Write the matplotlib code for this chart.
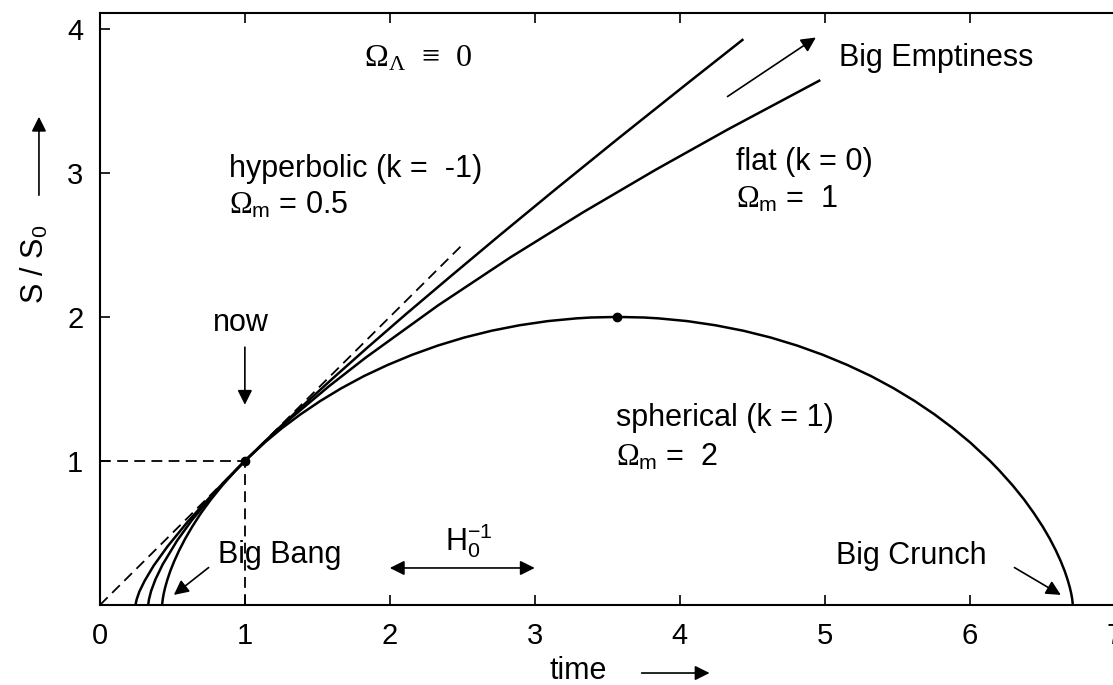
import matplotlib

matplotlib.use("Agg")
import matplotlib.pyplot as plt  # noqa: E402

plt.rcParams["font.family"] = ["Liberation Sans", "DejaVu Sans"]
plt.rcParams["mathtext.fontset"] = "custom"
plt.rcParams["mathtext.rm"] = "Liberation Serif"
plt.rcParams["mathtext.it"] = "Liberation Serif:italic"
plt.rcParams["mathtext.sf"] = "Liberation Sans"

# scale factor S/S0 against time (units of 1/H0)
sph_t = [0.429, 0.429, 0.431, 0.434, 0.440, 0.450, 0.465, 0.485, 0.512, 0.546,
         0.588, 0.638, 0.697, 0.766, 0.844, 0.932, 1.000, 1.138, 1.255, 1.383,
         1.520, 1.666, 1.821, 1.984, 2.154, 2.331, 2.514, 2.702, 2.894, 3.090,
         3.288, 3.388, 3.571,
         3.754, 3.854, 4.052, 4.247, 4.440, 4.628, 4.811, 4.988, 5.158, 5.321,
         5.476, 5.622, 5.759, 5.886, 6.004, 6.142, 6.210, 6.298, 6.376, 6.444,
         6.504, 6.554, 6.596, 6.630, 6.657, 6.677, 6.692, 6.702, 6.708, 6.711,
         6.712, 6.712]
sph_s = [0.0, 0.005, 0.020, 0.045, 0.079, 0.122, 0.175, 0.235, 0.303, 0.378,
         0.460, 0.546, 0.638, 0.733, 0.830, 0.929, 1.000, 1.129, 1.227, 1.323,
         1.416, 1.505, 1.589, 1.666, 1.737, 1.801, 1.857, 1.904, 1.942, 1.971,
         1.990, 1.996, 2.000,
         1.996, 1.990, 1.971, 1.942, 1.904, 1.857, 1.801, 1.737, 1.666, 1.589,
         1.505, 1.416, 1.323, 1.227, 1.129, 1.000, 0.929, 0.830, 0.733, 0.638,
         0.546, 0.460, 0.378, 0.303, 0.235, 0.175, 0.122, 0.079, 0.045, 0.020,
         0.005, 0.0]

flat_t = [0.333, 0.338, 0.353, 0.383, 0.433, 0.533, 0.633, 0.783, 0.883, 1.000,
          1.183, 1.333, 1.583, 1.833, 2.333, 2.833, 3.333, 3.833, 4.333, 4.963]
flat_s = [0.0, 0.038, 0.097, 0.178, 0.282, 0.448, 0.587, 0.769, 0.880, 1.000,
          1.176, 1.310, 1.521, 1.717, 2.080, 2.414, 2.726, 3.021, 3.302, 3.640]

hyp_t = [0.246, 0.247, 0.254, 0.272, 0.309, 0.370, 0.465, 0.603, 0.795, 1.000,
         1.214, 1.397, 1.605, 1.842, 2.111, 2.415, 2.757, 3.142, 3.574, 4.059,
         4.433]
hyp_s = [0.0, 0.010, 0.041, 0.093, 0.169, 0.272, 0.405, 0.575, 0.789, 1.000,
         1.209, 1.381, 1.572, 1.784, 2.019, 2.278, 2.566, 2.885, 3.237, 3.626,
         3.923]

empty_t = [0.0, 2.5]
empty_s = [0.0, 2.5]

now_t, now_s = 1.0, 1.0
max_t, max_s = 3.571, 2.0

x_ticks = [0, 1, 2, 3, 4, 5, 6, 7]
y_ticks = [1, 2, 3, 4]

fig = plt.figure(figsize=(11.13, 6.85), dpi=100)
ax = fig.add_axes([0.0898, 0.1168, 0.918, 0.8642])

ax.plot(sph_t, sph_s, color="black", lw=1.8)
ax.plot(flat_t, flat_s, color="black", lw=1.8)
ax.plot(hyp_t, hyp_s, color="black", lw=1.8)
ax.plot(empty_t, empty_s, color="black", lw=1.3, ls=(0, (6, 3.5)))
ax.plot([0, now_t], [now_s, now_s], color="black", lw=1.3, ls=(0, (6, 3.5)))
ax.plot([now_t, now_t], [0, now_s], color="black", lw=1.3, ls=(0, (6, 3.5)))
ax.plot([now_t, max_t], [now_s, max_s], "o", color="black", ms=6)

ax.set_xlim(0, 7.05)
ax.set_ylim(0, 4.11)
ax.set_xticks(x_ticks)
ax.set_yticks(y_ticks)
ax.tick_params(direction="in", length=7, width=1.2, labelsize=21, pad=12,
               top=True, right=False)
for side in ["left", "bottom", "top"]:
    ax.spines[side].set_linewidth(1.5)
ax.spines["right"].set_visible(False)

fs = 22
ax.text(1.82, 3.74, r"$\Omega_\Lambda$  ≡  0", fontsize=23,
        family="Liberation Serif")
ax.text(0.89, 2.97, "hyperbolic (k =  -1)", fontsize=fs)
ax.text(0.89, 2.72, r"$\Omega_{\mathsf{m}}$ = 0.5", fontsize=fs)
ax.text(4.39, 3.02, "flat (k = 0)", fontsize=fs)
ax.text(4.39, 2.76, r"$\Omega_{\mathsf{m}}$ =  1", fontsize=fs)
ax.text(5.10, 3.74, "Big Emptiness", fontsize=fs)
ax.text(3.56, 1.24, "spherical (k = 1)", fontsize=fs)
ax.text(3.56, 0.97, r"$\Omega_{\mathsf{m}}$ =  2", fontsize=fs)
ax.text(0.815, 0.29, "Big Bang", fontsize=fs)
ax.text(5.08, 0.285, "Big Crunch", fontsize=fs)
ax.text(2.38, 0.38, r"H$_{\mathsf{0}}^{\mathsf{-1}}$", fontsize=fs)
ax.text(0.78, 1.90, "now", fontsize=fs)

arrow = dict(arrowstyle="-|>", color="black", lw=1.2, mutation_scale=22,
             shrinkA=0, shrinkB=0)
ax.annotate("", xy=(4.94, 3.94), xytext=(4.33, 3.53), arrowprops=arrow)
ax.annotate("", xy=(1.0, 1.39), xytext=(1.0, 1.79), arrowprops=arrow)
ax.annotate("", xy=(0.51, 0.07), xytext=(0.75, 0.26), arrowprops=arrow)
ax.annotate("", xy=(6.63, 0.07), xytext=(6.31, 0.26), arrowprops=arrow)
ax.annotate("", xy=(2.0, 0.257), xytext=(3.0, 0.257),
            arrowprops=dict(arrowstyle="<|-|>", color="black", lw=1.2,
                            mutation_scale=22, shrinkA=0, shrinkB=0))

fig.text(0.494, 0.009, "time", fontsize=fs)
fig.add_artist(matplotlib.patches.FancyArrowPatch(
    (0.574, 0.0175), (0.640, 0.0175), transform=fig.transFigure,
    arrowstyle="-|>", color="black", lw=1.2, mutation_scale=22))
fig.text(0.0314, 0.6146, r"S / S$_{\mathsf{0}}$", fontsize=fs, rotation=90,
         ha="center", va="center")
fig.add_artist(matplotlib.patches.FancyArrowPatch(
    (0.035, 0.711), (0.035, 0.8336), transform=fig.transFigure,
    arrowstyle="-|>", color="black", lw=1.2, mutation_scale=22))

fig.savefig("out.png", dpi=100)
